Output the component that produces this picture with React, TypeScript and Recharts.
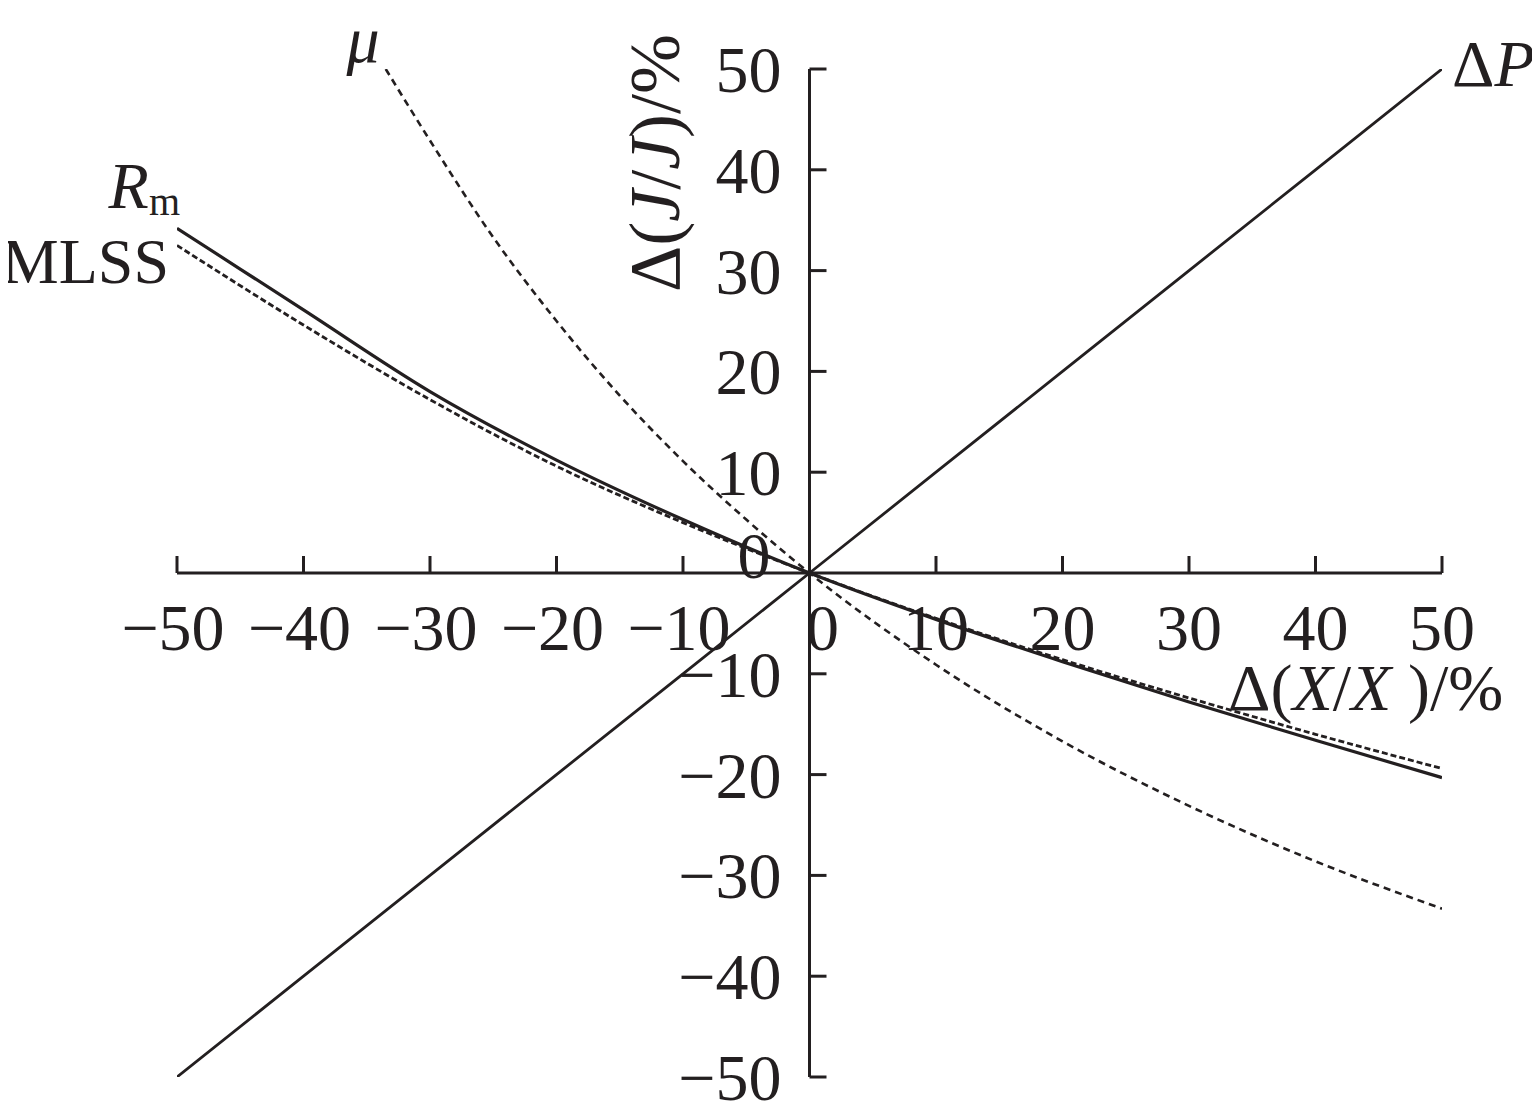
import { LineChart, Line, XAxis, YAxis, ReferenceLine } from 'recharts';

// values, in %
const X_VALUES = [-50, -40, -30, -20, -10, 0, 10, 20, 30, 40, 50];
const DELTA_P = [-50, -40, -30, -20, -10, 0, 10, 20, 30, 40, 50];
const RM = [34.2, 26.1, 18.0, 11.2, 5.3, 0, -4.6, -8.8, -12.8, -16.6, -20.3];
const MLSS = [32.5, 24.6, 17.2, 10.6, 5.0, 0, -4.5, -8.6, -12.4, -16.0, -19.4];
const MU_X = [-33.5, -30, -25, -20, -15, -10, -5, 0, 10, 20, 30, 40, 50];
const MU = [50, 42.9, 33.3, 25.0, 17.6, 11.1, 5.3, 0, -9.1, -16.7, -23.1, -28.6, -33.3];

const X_TICKS = [-50, -40, -30, -20, -10, 0, 10, 20, 30, 40, 50];
const Y_TICKS = [-50, -40, -30, -20, -10, 0, 10, 20, 30, 40, 50];

const W = 1524;
const H = 1104;
const AXIS_W = 30;
const AXIS_H = 30;
const MARGIN = { top: 61, right: 90, bottom: 35 - AXIS_H, left: 169 - AXIS_W };
const PLOT_LEFT = MARGIN.left + AXIS_W;
const PLOT_W = W - PLOT_LEFT - MARGIN.right;
const PLOT_H = H - MARGIN.top - MARGIN.bottom - AXIS_H;
const X0 = PLOT_LEFT + PLOT_W / 2;
const Y0 = MARGIN.top + PLOT_H / 2;

const FONT = '"Liberation Serif", "Times New Roman", serif';
const INK = '#231f20';

const fmt = (v: number) => (v < 0 ? '\u2212' + Math.abs(v) : String(v));

const toRows = (xs: number[], ys: number[]) => xs.map((x, i) => ({ x, y: ys[i] }));

const dpData = toRows(X_VALUES, DELTA_P);
const rmData = toRows(X_VALUES, RM);
const mlssData = toRows(X_VALUES, MLSS);
const muData = toRows(MU_X, MU);

// x ticks are drawn on the y = 0 line rather than at the bottom edge
const renderXTick = (props: any) => {
    const { x, payload } = props;
    const v = payload.value;
    const shift = v === 0 ? 13 : v < 0 ? -4 : 0;
    return <g>
        {v !== 0 && <line x1={x} x2={x} y1={Y0} y2={Y0 - 17} stroke={INK} strokeWidth={3} />}
        <text x={x + shift} y={Y0 + 77} textAnchor="middle" fontSize={66} fontFamily={FONT} fill={INK}>{fmt(v)}</text>
    </g>;
};

// y ticks are drawn on the x = 0 line
const renderYTick = (props: any) => {
    const { y, payload } = props;
    const v = payload.value;
    return <g>
        {v !== 0 && <line x1={X0} x2={X0 + 17} y1={y} y2={y} stroke={INK} strokeWidth={3} />}
        <text x={v === 0 ? X0 - 39 : X0 - 28} y={v === 0 ? y + 5 : y + 23} textAnchor="end" fontSize={66} fontFamily={FONT} fill={INK}>{fmt(v)}</text>
    </g>;
};

// draws a series name next to one end point of the line
const endLabel = (idx: number, draw: (x: number, y: number) => any) => (p: any) =>
    p.index === idx ? draw(p.x, p.y) : <g />;

const textStyle = { fontFamily: FONT, fill: INK };

const App = () => {
    return <div style={{ position: 'relative', width: W, height: H }}>
        <LineChart width={W} height={H} margin={MARGIN}>
            <XAxis type="number" dataKey="x" domain={[-50, 50]} ticks={X_TICKS} interval={0}
                height={AXIS_H} axisLine={false} tickLine={false} tick={renderXTick} allowDataOverflow />
            <YAxis type="number" dataKey="y" domain={[-50, 50]} ticks={Y_TICKS} interval={0}
                width={AXIS_W} axisLine={false} tickLine={false} tick={renderYTick} allowDataOverflow />
            <ReferenceLine x={0} stroke={INK} strokeWidth={3} />
            <ReferenceLine y={0} stroke={INK} strokeWidth={3} />
            <Line data={dpData} dataKey="y" type="linear" stroke={INK} strokeWidth={2.8} dot={false}
                activeDot={false} isAnimationActive={false}
                label={endLabel(dpData.length - 1, (x, y) =>
                    <text x={x + 10} y={y + 17} fontSize={66} style={textStyle}>Δ<tspan fontStyle="italic">P</tspan></text>)} />
            <Line data={mlssData} dataKey="y" type="monotone" stroke={INK} strokeWidth={2.8} strokeDasharray="6 3"
                dot={false} activeDot={false} isAnimationActive={false}
                label={endLabel(0, (x, y) =>
                    <text x={x - 8} y={y + 38} textAnchor="end" fontSize={64} style={textStyle}>MLSS</text>)} />
            <Line data={rmData} dataKey="y" type="monotone" stroke={INK} strokeWidth={3.2} dot={false}
                activeDot={false} isAnimationActive={false}
                label={endLabel(0, (x, y) =>
                    <text x={x + 3} y={y - 20} textAnchor="end" fontSize={66} style={textStyle}>
                        <tspan fontStyle="italic">R</tspan><tspan fontSize={40} dy={7}>m</tspan>
                    </text>)} />
            <Line data={muData} dataKey="y" type="monotone" stroke={INK} strokeWidth={2.6} strokeDasharray="7 5"
                dot={false} activeDot={false} isAnimationActive={false}
                label={endLabel(0, (x, y) =>
                    <text x={x - 6} y={y - 7} textAnchor="end" fontSize={66} fontStyle="italic" style={textStyle}>μ</text>)} />
        </LineChart>
        <svg width={W} height={H} style={{ position: 'absolute', left: 0, top: 0, pointerEvents: 'none' }}>
            <text transform="translate(671,155) rotate(-90)" textAnchor="middle" fontSize={72} style={textStyle}>
                Δ(<tspan fontStyle="italic">J</tspan>/<tspan fontStyle="italic">J</tspan>)/%
            </text>
            <text x={1220} y={702} fontSize={66} style={textStyle}>
                Δ(<tspan fontStyle="italic">X</tspan>/<tspan fontStyle="italic">X</tspan> )/%
            </text>
        </svg>
    </div>;
};

export default App;
